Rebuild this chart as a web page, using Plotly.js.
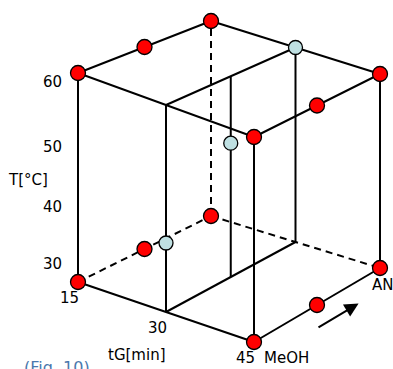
<!DOCTYPE html>
<html>
<head>
<meta charset="utf-8">
<script src="https://cdn.plot.ly/plotly-3.0.1.min.js"></script>
<style>
html,body{margin:0;padding:0;background:#fff;}
#chart{width:393px;height:369px;}
</style>
</head>
<body>
<div id="chart"></div>
<script>
// ---- data: design points (tG [min], T [°C], organic modifier fraction 0=MeOH .. 1=AN)
const tGLevels = [15, 30, 45];
const tLevels = [30, 40, 50, 60];
const solventNames = ['MeOH', 'AN'];

const redTG   = [15, 15, 15, 45, 45, 45, 15, 15, 15, 45, 45, 45];
const redT    = [60, 60, 60, 60, 60, 60, 30, 30, 30, 30, 30, 30];
const redSolv = [0, 0.5, 1, 0, 0.5, 1, 0, 0.5, 1, 0, 0.5, 1];

const blueTG   = [30, 30, 30];
const blueT    = [40, 50, 60];
const blueSolv = [0, 0.5, 1];

const tTickLabels = ['60', '50', '40', '30'];
const tGTickLabels = ['15', '30', '45'];

// ---- projection frame (layout): screen position of the 8 cube corners, keyed u v w
const FRAME = {
  '000': [78, 282], '010': [78, 73], '100': [254, 342], '110': [254, 137],
  '001': [211, 216], '011': [211, 21], '101': [380, 268], '111': [380, 74]
};
const tGMin = Math.min(...tGLevels), tGMax = Math.max(...tGLevels);
const tMin = Math.min(...tLevels), tMax = Math.max(...tLevels);

function proj(tg, t, s) {
  const u = (tg - tGMin) / (tGMax - tGMin);
  const v = (t - tMin) / (tMax - tMin);
  const w = s;
  let x = 0, y = 0;
  for (const a of [0, 1]) for (const b of [0, 1]) for (const c of [0, 1]) {
    const wt = (a ? u : 1 - u) * (b ? v : 1 - v) * (c ? w : 1 - w);
    const p = FRAME['' + a + b + c];
    x += wt * p[0]; y += wt * p[1];
  }
  return [x, y];
}

const tGMid = tGLevels[1];
// edges as pairs of [tG, T, solvent]
const solidEdges = [
  [[tGMin, tMin, 0], [tGMin, tMax, 0]],
  [[tGMax, tMin, 0], [tGMax, tMax, 0]],
  [[tGMax, tMin, 1], [tGMax, tMax, 1]],
  [[tGMin, tMax, 0], [tGMax, tMax, 0]],
  [[tGMin, tMax, 0], [tGMin, tMax, 1]],
  [[tGMin, tMax, 1], [tGMax, tMax, 1]],
  [[tGMax, tMax, 0], [tGMax, tMax, 1]],
  [[tGMin, tMin, 0], [tGMax, tMin, 0]],
  [[tGMax, tMin, 0], [tGMax, tMin, 1]],
  // inner plane at tG = 30
  [[tGMid, tMin, 0], [tGMid, tMax, 0]],
  [[tGMid, tMax, 0], [tGMid, tMax, 1]],
  [[tGMid, tMax, 1], [tGMid, tMin, 1]],
  [[tGMid, tMin, 1], [tGMid, tMin, 0]],
  [[tGMid, tMin, 0.5], [tGMid, tMax, 0.5]]
];
const dashedEdges = [
  [[tGMin, tMin, 1], [tGMin, tMax, 1]],
  [[tGMin, tMin, 0], [tGMin, tMin, 1]],
  [[tGMin, tMin, 1], [tGMax, tMin, 1]]
];

function edgeXY(edges) {
  const xs = [], ys = [];
  edges.forEach(e => {
    const p = proj(...e[0]), q = proj(...e[1]);
    xs.push(p[0], q[0], null); ys.push(p[1], q[1], null);
  });
  return {x: xs, y: ys};
}
function pts(tg, t, s) {
  const xs = [], ys = [];
  tg.forEach((v, i) => { const p = proj(v, t[i], s[i]); xs.push(p[0]); ys.push(p[1]); });
  return {x: xs, y: ys};
}

const solid = edgeXY(solidEdges), dashed = edgeXY(dashedEdges);
const red = pts(redTG, redT, redSolv), blue = pts(blueTG, blueT, blueSolv);

const traces = [
  {x: dashed.x, y: dashed.y, mode: 'lines', line: {color: '#000', width: 2, dash: '7px,5px'}, hoverinfo: 'skip'},
  {x: solid.x, y: solid.y, mode: 'lines', line: {color: '#000', width: 2}, hoverinfo: 'skip'},
  {x: red.x, y: red.y, mode: 'markers', marker: {size: 15, color: '#ff0000', line: {color: '#000', width: 1.3}}},
  {x: blue.x, y: blue.y, mode: 'markers', marker: {size: 14, color: '#bfe0e2', line: {color: '#000', width: 1.3}}}
];

const font = {family: 'DejaVu Sans, sans-serif', size: 15, color: '#000'};
const annotations = [];
// T tick labels (placed along the left)
const tLabelY = [82, 147, 207, 264];
tTickLabels.forEach((lab, i) => annotations.push({x: 64, y: tLabelY[i], text: lab, showarrow: false, xanchor: 'right', yanchor: 'middle', font}));
annotations.push({x: 28, y: 180, text: 'T[°C]', showarrow: false, xanchor: 'center', yanchor: 'middle', font});
// tG tick labels below the front bottom edge
tGTickLabels.forEach((lab, i) => {
  const p = proj(tGLevels[i], tMin, 0);
  annotations.push({x: p[0], y: p[1], text: lab, showarrow: false, xanchor: 'center', yanchor: 'middle', xshift: -9, yshift: -16, font});
});
annotations.push({x: 137, y: 355, text: 'tG[min]', showarrow: false, xanchor: 'center', yanchor: 'middle', font});
const pMeOH = proj(tGMax, tMin, 0), pAN = proj(tGMax, tMin, 1);
annotations.push({x: pMeOH[0], y: pMeOH[1], text: solventNames[0], showarrow: false, xanchor: 'left', yanchor: 'middle', xshift: 8, yshift: -16, font});
annotations.push({x: pAN[0], y: pAN[1], text: solventNames[1], showarrow: false, xanchor: 'left', yanchor: 'middle', xshift: -10, yshift: -17, font});
// direction arrow MeOH -> AN
const aTail = proj(tGMax, tMin - 3.5, 0.5), aHead = proj(tGMax, tMin - 3.5, 0.83);
annotations.push({x: aHead[0], y: aHead[1], ax: aTail[0], ay: aTail[1], axref: 'x', ayref: 'y', xref: 'x', yref: 'y',
  text: '', showarrow: true, arrowhead: 2, arrowsize: 1.4, arrowwidth: 2, arrowcolor: '#000'});
annotations.push({x: 22, y: 367, text: '(Fig. 10)', showarrow: false, xanchor: 'left', yanchor: 'middle',
  font: {family: 'DejaVu Sans, sans-serif', size: 16, color: '#4a78ad'}});

const layout = {
  width: 393, height: 369,
  margin: {l: 0, r: 0, t: 0, b: 0},
  paper_bgcolor: '#fff', plot_bgcolor: '#fff',
  showlegend: false,
  xaxis: {range: [0, 393], visible: false, fixedrange: true},
  yaxis: {range: [369, 0], visible: false, fixedrange: true},
  annotations
};
Plotly.newPlot('chart', traces, layout, {displayModeBar: false, staticPlot: true});
</script>
</body>
</html>
